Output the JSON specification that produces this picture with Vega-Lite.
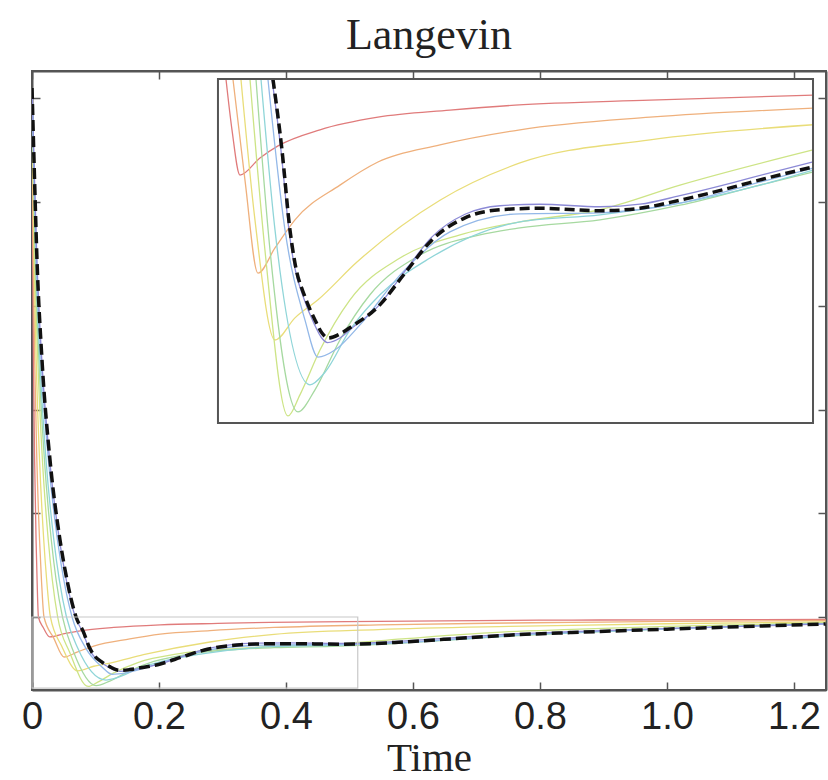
{
"$schema":"https://vega.github.io/schema/vega-lite/v6.json",
"width":794,"height":619,
"autosize":"none",
"padding":{"left":32,"top":71,"right":2,"bottom":90},
"background":"white",
"title":{"text":"Langevin","font":"Liberation Serif","fontSize":44,"fontWeight":"normal","color":"#222","offset":12,"anchor":"middle"},
"config":{"view":{"stroke":"#555","strokeWidth":2},"axis":{"grid":false}},
"datasets":{
"curves":[
{"s":"red","t":0,"v":6.101},{"s":"red","t":0.00046,"v":5.407},{"s":"red","t":0.00114,"v":4.443},{"s":"red","t":0.00228,"v":3.478},{"s":"red","t":0.00411,"v":2.514},{"s":"red","t":0.0064,"v":1.743},{"s":"red","t":0.008,"v":1.357},{"s":"red","t":0.0101,"v":1.0},{"s":"red","t":0.0177,"v":0.899},{"s":"red","t":0.0278,"v":0.809},{"s":"red","t":0.053,"v":0.843},{"s":"red","t":0.0758,"v":0.867},{"s":"red","t":0.1288,"v":0.899},{"s":"red","t":0.202,"v":0.924},{"s":"red","t":0.2929,"v":0.938},{"s":"red","t":0.375,"v":0.948},{"s":"red","t":0.5455,"v":0.958},{"s":"red","t":0.7513,"v":0.968},{"s":"red","t":0.85,"v":0.97},{"s":"red","t":1.0,"v":0.973},{"s":"red","t":1.25,"v":0.977},
{"s":"orange","t":0,"v":6.101},{"s":"orange","t":0.00085,"v":5.407},{"s":"orange","t":0.00213,"v":4.443},{"s":"orange","t":0.00425,"v":3.478},{"s":"orange","t":0.00765,"v":2.514},{"s":"orange","t":0.0119,"v":1.743},{"s":"orange","t":0.0149,"v":1.357},{"s":"orange","t":0.0189,"v":1.0},{"s":"orange","t":0.0341,"v":0.799},{"s":"orange","t":0.0505,"v":0.614},{"s":"orange","t":0.072,"v":0.664},{"s":"orange","t":0.0972,"v":0.72},{"s":"orange","t":0.154,"v":0.789},{"s":"orange","t":0.202,"v":0.835},{"s":"orange","t":0.2803,"v":0.869},{"s":"orange","t":0.3813,"v":0.899},{"s":"orange","t":0.5455,"v":0.924},{"s":"orange","t":0.7513,"v":0.942},{"s":"orange","t":0.85,"v":0.948},{"s":"orange","t":1.0,"v":0.957},{"s":"orange","t":1.25,"v":0.966},
{"s":"yellow","t":0,"v":6.101},{"s":"yellow","t":0.00132,"v":5.407},{"s":"yellow","t":0.0033,"v":4.443},{"s":"yellow","t":0.0066,"v":3.478},{"s":"yellow","t":0.0119,"v":2.514},{"s":"yellow","t":0.0185,"v":1.743},{"s":"yellow","t":0.0231,"v":1.357},{"s":"yellow","t":0.029,"v":1.0},{"s":"yellow","t":0.0467,"v":0.72},{"s":"yellow","t":0.072,"v":0.481},{"s":"yellow","t":0.0972,"v":0.525},{"s":"yellow","t":0.1263,"v":0.561},{"s":"yellow","t":0.1755,"v":0.636},{"s":"yellow","t":0.2803,"v":0.759},{"s":"yellow","t":0.3813,"v":0.833},{"s":"yellow","t":0.5455,"v":0.879},{"s":"yellow","t":0.7513,"v":0.909},{"s":"yellow","t":0.85,"v":0.92},{"s":"yellow","t":1.0,"v":0.935},{"s":"yellow","t":1.25,"v":0.952},
{"s":"lime","t":0,"v":6.101},{"s":"lime","t":0.00183,"v":5.407},{"s":"lime","t":0.00456,"v":4.443},{"s":"lime","t":0.00914,"v":3.478},{"s":"lime","t":0.0164,"v":2.514},{"s":"lime","t":0.0256,"v":1.743},{"s":"lime","t":0.032,"v":1.357},{"s":"lime","t":0.0404,"v":1.0},{"s":"lime","t":0.0593,"v":0.66},{"s":"lime","t":0.0884,"v":0.33},{"s":"lime","t":0.1035,"v":0.372},{"s":"lime","t":0.1288,"v":0.461},{"s":"lime","t":0.1667,"v":0.561},{"s":"lime","t":0.2298,"v":0.644},{"s":"lime","t":0.3056,"v":0.69},{"s":"lime","t":0.3813,"v":0.716},{"s":"lime","t":0.4823,"v":0.74},{"s":"lime","t":0.5833,"v":0.789},{"s":"lime","t":0.7513,"v":0.859},{"s":"lime","t":0.85,"v":0.88},{"s":"lime","t":1.0,"v":0.91},{"s":"lime","t":1.25,"v":0.945},
{"s":"green","t":0,"v":6.101},{"s":"green","t":0.00217,"v":5.407},{"s":"green","t":0.00543,"v":4.443},{"s":"green","t":0.01087,"v":3.478},{"s":"green","t":0.0196,"v":2.514},{"s":"green","t":0.0304,"v":1.743},{"s":"green","t":0.038,"v":1.357},{"s":"green","t":0.048,"v":1.0},{"s":"green","t":0.0657,"v":0.66},{"s":"green","t":0.101,"v":0.338},{"s":"green","t":0.1225,"v":0.382},{"s":"green","t":0.154,"v":0.481},{"s":"green","t":0.1919,"v":0.571},{"s":"green","t":0.2551,"v":0.65},{"s":"green","t":0.3308,"v":0.69},{"s":"green","t":0.3813,"v":0.704},{"s":"green","t":0.4823,"v":0.72},{"s":"green","t":0.5833,"v":0.749},{"s":"green","t":0.6843,"v":0.789},{"s":"green","t":0.7513,"v":0.815},{"s":"green","t":0.85,"v":0.848},{"s":"green","t":1.0,"v":0.888},{"s":"green","t":1.25,"v":0.938},
{"s":"cyan","t":0,"v":6.101},{"s":"cyan","t":0.00246,"v":5.407},{"s":"cyan","t":0.00614,"v":4.443},{"s":"cyan","t":0.01229,"v":3.478},{"s":"cyan","t":0.0221,"v":2.514},{"s":"cyan","t":0.0344,"v":1.743},{"s":"cyan","t":0.043,"v":1.357},{"s":"cyan","t":0.0543,"v":1.0},{"s":"cyan","t":0.072,"v":0.7},{"s":"cyan","t":0.1162,"v":0.392},{"s":"cyan","t":0.1351,"v":0.417},{"s":"cyan","t":0.1667,"v":0.501},{"s":"cyan","t":0.2045,"v":0.571},{"s":"cyan","t":0.2677,"v":0.644},{"s":"cyan","t":0.3813,"v":0.716},{"s":"cyan","t":0.4823,"v":0.73},{"s":"cyan","t":0.5833,"v":0.753},{"s":"cyan","t":0.6843,"v":0.789},{"s":"cyan","t":0.7513,"v":0.819},{"s":"cyan","t":0.85,"v":0.848},{"s":"cyan","t":1.0,"v":0.886},{"s":"cyan","t":1.25,"v":0.936},
{"s":"lblue","t":0,"v":6.101},{"s":"lblue","t":0.00287,"v":5.407},{"s":"lblue","t":0.00716,"v":4.443},{"s":"lblue","t":0.01433,"v":3.478},{"s":"lblue","t":0.0258,"v":2.514},{"s":"lblue","t":0.0401,"v":1.743},{"s":"lblue","t":0.0501,"v":1.357},{"s":"lblue","t":0.0631,"v":1.0},{"s":"lblue","t":0.0846,"v":0.7},{"s":"lblue","t":0.1098,"v":0.521},{"s":"lblue","t":0.1263,"v":0.447},{"s":"lblue","t":0.1477,"v":0.461},{"s":"lblue","t":0.1793,"v":0.511},{"s":"lblue","t":0.2298,"v":0.61},{"s":"lblue","t":0.2929,"v":0.696},{"s":"lblue","t":0.3813,"v":0.732},{"s":"lblue","t":0.4823,"v":0.734},{"s":"lblue","t":0.5833,"v":0.753},{"s":"lblue","t":0.6843,"v":0.795},{"s":"lblue","t":0.7513,"v":0.823},{"s":"lblue","t":0.85,"v":0.852},{"s":"lblue","t":1.0,"v":0.888},{"s":"lblue","t":1.25,"v":0.936},
{"s":"blue","t":0,"v":6.101},{"s":"blue","t":0.00309,"v":5.407},{"s":"blue","t":0.00771,"v":4.443},{"s":"blue","t":0.01544,"v":3.478},{"s":"blue","t":0.0278,"v":2.514},{"s":"blue","t":0.0432,"v":1.743},{"s":"blue","t":0.054,"v":1.357},{"s":"blue","t":0.0682,"v":1.0},{"s":"blue","t":0.0795,"v":0.859},{"s":"blue","t":0.0896,"v":0.7},{"s":"blue","t":0.096,"v":0.632},{"s":"blue","t":0.1088,"v":0.562},{"s":"blue","t":0.1215,"v":0.513},{"s":"blue","t":0.1305,"v":0.486},{"s":"blue","t":0.1385,"v":0.476},{"s":"blue","t":0.154,"v":0.485},{"s":"blue","t":0.1679,"v":0.503},{"s":"blue","t":0.202,"v":0.548},{"s":"blue","t":0.2361,"v":0.618},{"s":"blue","t":0.2702,"v":0.686},{"s":"blue","t":0.3119,"v":0.731},{"s":"blue","t":0.3561,"v":0.748},{"s":"blue","t":0.4066,"v":0.751},{"s":"blue","t":0.4823,"v":0.746},{"s":"blue","t":0.5328,"v":0.751},{"s":"blue","t":0.5833,"v":0.768},{"s":"blue","t":0.6503,"v":0.794},{"s":"blue","t":0.6932,"v":0.812},{"s":"blue","t":0.7513,"v":0.835},{"s":"blue","t":0.85,"v":0.858},{"s":"blue","t":1.0,"v":0.888},{"s":"blue","t":1.25,"v":0.934},
{"s":"black","t":0,"v":6.101},{"s":"black","t":0.00315,"v":5.407},{"s":"black","t":0.00787,"v":4.443},{"s":"black","t":0.01575,"v":3.478},{"s":"black","t":0.02835,"v":2.514},{"s":"black","t":0.0441,"v":1.743},{"s":"black","t":0.0551,"v":1.357},{"s":"black","t":0.0694,"v":1.0},{"s":"black","t":0.0808,"v":0.859},{"s":"black","t":0.0909,"v":0.7},{"s":"black","t":0.0972,"v":0.634},{"s":"black","t":0.1098,"v":0.567},{"s":"black","t":0.1225,"v":0.521},{"s":"black","t":0.1313,"v":0.495},{"s":"black","t":0.1389,"v":0.485},{"s":"black","t":0.154,"v":0.493},{"s":"black","t":0.1679,"v":0.507},{"s":"black","t":0.202,"v":0.547},{"s":"black","t":0.2361,"v":0.614},{"s":"black","t":0.2702,"v":0.68},{"s":"black","t":0.3119,"v":0.724},{"s":"black","t":0.3561,"v":0.74},{"s":"black","t":0.4066,"v":0.743},{"s":"black","t":0.4823,"v":0.738},{"s":"black","t":0.5328,"v":0.743},{"s":"black","t":0.5833,"v":0.759},{"s":"black","t":0.6503,"v":0.785},{"s":"black","t":0.6932,"v":0.803},{"s":"black","t":0.7513,"v":0.825},{"s":"black","t":0.85,"v":0.85},{"s":"black","t":1.0,"v":0.883},{"s":"black","t":1.25,"v":0.932}
],
"zoombox":[{"t0":0,"t1":0.513,"v0":0.315,"v1":1.0}],
"insetframe":[{"t0":0,"t1":0.7513,"v0":0.316,"v1":1.0}]
},
"layer":[
{
"layer":[
{"data":{"name":"curves"},"transform":[{"filter":"datum.s !== 'black'"}],
 "mark":{"type":"line","interpolate":"monotone","strokeWidth":1.3,"clip":true},
 "encoding":{
  "x":{"field":"t","type":"quantitative","scale":{"domain":[0,1.2504],"nice":false,"zero":false},
       "axis":{"orient":"bottom","values":[0,0.2,0.4,0.6,0.8,1.0,1.2],"labelExpr":"datum.value === 0 ? '0' : format(datum.value, '.1f')","labelFont":"Liberation Sans","labelFontSize":38,"labelColor":"#222","labelFlush":false,"labelOverlap":false,"labelPadding":16,"tickSize":-8,"tickColor":"#555","tickWidth":1.5,"domainColor":"#555","domainWidth":2,"title":"Time","titleFont":"Liberation Serif","titleFontSize":41,"titleFontWeight":"normal","titleColor":"#222","titlePadding":2}},
  "y":{"field":"v","type":"quantitative","scale":{"domain":[0.296,6.265],"nice":false,"zero":false},
       "axis":{"orient":"left","values":[1,2,3,4,5,6],"labels":false,"title":null,"tickSize":-8,"tickColor":"#555","tickWidth":1.5,"domainColor":"#555","domainWidth":2}},
  "color":{"field":"s","type":"nominal","legend":null,
       "scale":{"domain":["red","orange","yellow","lime","green","cyan","lblue","blue","black"],
                "range":["#e07b7b","#efb07c","#e9dd79","#cde486","#a6d9a0","#8fd5d8","#93b8e8","#8c8ad6","#111111"]}}
 }},
{"data":{"name":"curves"},"transform":[{"filter":"datum.s === 'black'"}],
 "mark":{"type":"line","interpolate":"monotone","strokeWidth":3.5,"strokeDash":[11,5],"color":"#111","clip":true},
 "encoding":{
  "x":{"field":"t","type":"quantitative","scale":{"domain":[0,1.2504],"nice":false,"zero":false},"axis":null},
  "y":{"field":"v","type":"quantitative","scale":{"domain":[0.296,6.265],"nice":false,"zero":false},"axis":null}
 }},
{"data":{"name":"zoombox"},
 "mark":{"type":"rect","fill":null,"stroke":"#c8c8c8","strokeWidth":1.2},
 "encoding":{
  "x":{"field":"t0","type":"quantitative","axis":null},"x2":{"field":"t1"},
  "y":{"field":"v0","type":"quantitative","axis":null},"y2":{"field":"v1"}
 }},
{"data":{"name":"curves"},
 "mark":{"type":"line","opacity":0},
 "encoding":{
  "x":{"field":"t","type":"quantitative","axis":{"orient":"top","values":[0,0.2,0.4,0.6,0.8,1.0,1.2],"labels":false,"title":null,"tickSize":-8,"tickColor":"#555","tickWidth":1.5,"domainColor":"#555","domainWidth":2}},
  "y":{"field":"v","type":"quantitative","axis":{"orient":"right","values":[1,2,3,4,5,6],"labels":false,"title":null,"tickSize":-8,"tickColor":"#555","tickWidth":1.5,"domainColor":"#555","domainWidth":2}},
  "detail":{"field":"s"}
 }}
],
"resolve":{"axis":{"x":"independent","y":"independent"}}
},
{
"layer":[
{"data":{"name":"insetframe"},
 "mark":{"type":"rect","fill":"white","stroke":null},
 "encoding":{
  "x":{"field":"t0","type":"quantitative","scale":{"domain":[-0.2348,0.7677],"nice":false,"zero":false},"axis":null},"x2":{"field":"t1"},
  "y":{"field":"v0","type":"quantitative","scale":{"domain":[-0.2149,1.0159],"nice":false,"zero":false},"axis":null},"y2":{"field":"v1"}
 }},
{"data":{"name":"curves"},"transform":[{"filter":"datum.s !== 'black' && datum.v <= 1.0 && datum.t <= 0.7514"}],
 "mark":{"type":"line","interpolate":"monotone","strokeWidth":1.3},
 "encoding":{
  "x":{"field":"t","type":"quantitative","axis":null},
  "y":{"field":"v","type":"quantitative","axis":null},
  "color":{"field":"s","type":"nominal","legend":null}
 }},
{"data":{"name":"curves"},"transform":[{"filter":"datum.s === 'black' && datum.v <= 1.0 && datum.t <= 0.7514"}],
 "mark":{"type":"line","interpolate":"monotone","strokeWidth":3.5,"strokeDash":[10,5],"color":"#111"},
 "encoding":{
  "x":{"field":"t","type":"quantitative","axis":null},
  "y":{"field":"v","type":"quantitative","axis":null}
 }},
{"data":{"name":"insetframe"},
 "mark":{"type":"rect","fill":null,"stroke":"#555","strokeWidth":2},
 "encoding":{
  "x":{"field":"t0","type":"quantitative","axis":null},"x2":{"field":"t1"},
  "y":{"field":"v0","type":"quantitative","axis":null},"y2":{"field":"v1"}
 }}
]
}
],
"resolve":{"scale":{"x":"independent","y":"independent"}}
}
